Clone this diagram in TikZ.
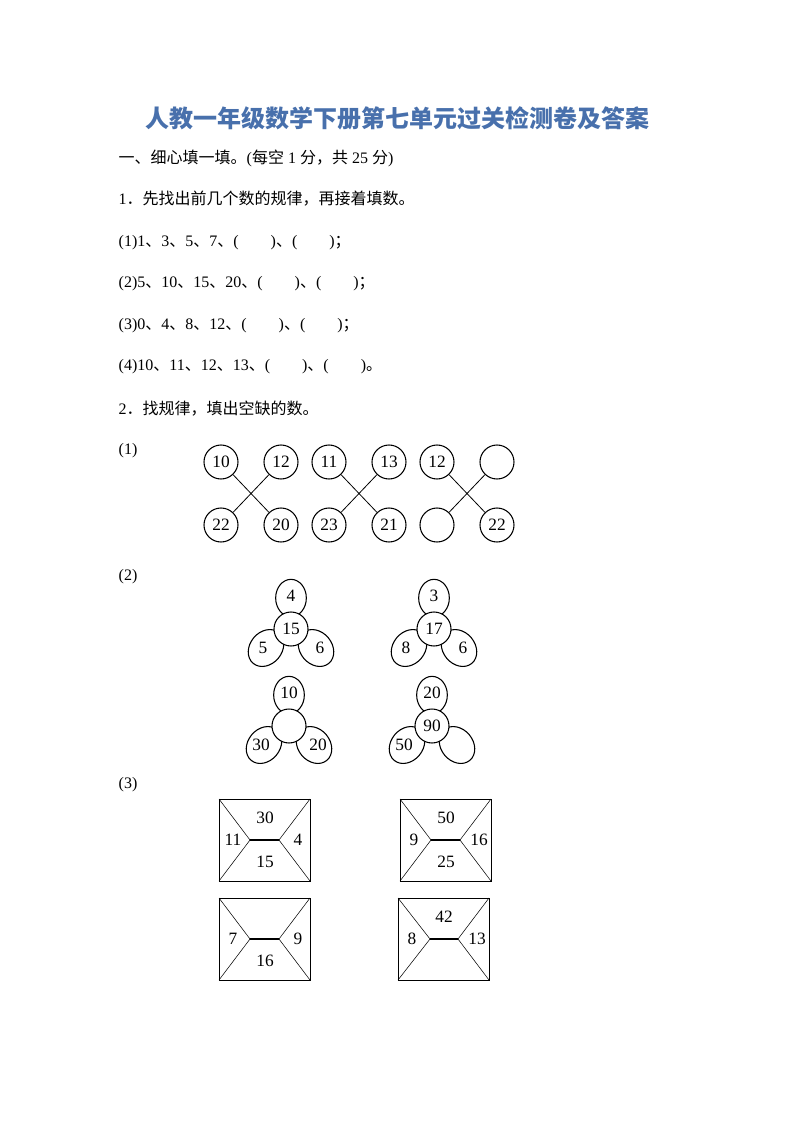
\documentclass[tikz,border=0pt]{standalone}
\usepackage{fontspec}
\setmainfont{Liberation Serif}
\newfontfamily\cjk{Noto Sans CJK SC}
\newcommand\zh[1]{{\cjk #1}}
\definecolor{titleblue}{RGB}{72,112,172}
\tikzset{
    line/.style = {anchor=west, font=\fontsize{12}{14}\selectfont},
    num/.style = {circle, draw, thick, minimum size=25.5pt, inner sep=0pt, font=\fontsize{13}{15}\selectfont},
    lab/.style = {font=\fontsize{13}{15}\selectfont, inner sep=0pt}
}
\begin{document}
\begin{tikzpicture}[x=0.75pt, y=-0.75pt]
    \useasboundingbox (0,0) rectangle (794,1122);
    \node[font=\fontsize{18}{20}\selectfont\bfseries, text=titleblue] (title) at (397,118) {\zh{人教一年级数学下册第七单元过关检测卷及答案}};
    \node[line] (l0) at (114,158) {\zh{一、细心填一填。}(\zh{每空} 1 \zh{分，共} 25 \zh{分})};
    \node[line] (l1) at (114,199) {1\zh{．先找出前几个数的规律，再接着填数。}};
    \node[line] (l2) at (114,243) {(1)1\zh{、}3\zh{、}5\zh{、}7\zh{、}(\hspace{2em})\zh{、}(\hspace{2em})\zh{；}};
    \node[line] (l3) at (114,284) {(2)5\zh{、}10\zh{、}15\zh{、}20\zh{、}(\hspace{2em})\zh{、}(\hspace{2em})\zh{；}};
    \node[line] (l4) at (114,326) {(3)0\zh{、}4\zh{、}8\zh{、}12\zh{、}(\hspace{2em})\zh{、}(\hspace{2em})\zh{；}};
    \node[line] (l5) at (114,367) {(4)10\zh{、}11\zh{、}12\zh{、}13\zh{、}(\hspace{2em})\zh{、}(\hspace{2em})\zh{。}};
    \node[line] (l6) at (114,409) {2\zh{．找规律，填出空缺的数。}};
    \node[line] (p1) at (114,451) {(1)};
    \node[line] (p2) at (114,577) {(2)};
    \node[line] (p3) at (114,785) {(3)};
    % crossing circles
    \foreach \i/\x/\a/\b/\c/\d in {1/221/10/12/22/20, 2/329/11/13/23/21, 3/437/12/{}/{}/22} {
        \node[num] (a\i) at (\x,462) {\a};
        \node[num] (b\i) at (\x+60,462) {\b};
        \node[num] (c\i) at (\x,525) {\c};
        \node[num] (d\i) at (\x+60,525) {\d};
        \draw[semithick] (a\i) -- (d\i);
        \draw[semithick] (b\i) -- (c\i);
    }
    % flowers
    \foreach \i/\x/\y/\t/\l/\r/\m in {1/291/629/4/5/6/15, 2/434/629/3/8/6/17, 3/289/726/10/30/20/{}, 4/432/726/20/50/{}/90} {
        \draw[thick, fill=white] (\x,\y-31) ellipse[x radius=11.5pt, y radius=14pt];
        \draw[thick, fill=white, rotate around={50:(\x-25,\y+19)}] (\x-25,\y+19) ellipse[x radius=15pt, y radius=12pt];
        \draw[thick, fill=white, rotate around={-50:(\x+25,\y+19)}] (\x+25,\y+19) ellipse[x radius=15pt, y radius=12pt];
        \node[num, fill=white] (m\i) at (\x,\y) {\m};
        \node[lab] (t\i) at (\x,\y-33) {\t};
        \node[lab] (l\i) at (\x-28,\y+19) {\l};
        \node[lab] (r\i) at (\x+29,\y+19) {\r};
    }
    % boxes
    \foreach \i/\x/\y/\u/\v/\w/\s/\el/\er in {1/219/799/30/11/4/15/250/279, 2/400/799/50/9/16/25/431/460, 3/219/898/{}/7/9/16/250/279, 4/398/898/42/8/13/{}/430/458} {
        \coordinate (nw\i) at (\x,\y);
        \coordinate (ne\i) at (\x+91,\y);
        \coordinate (sw\i) at (\x,\y+82);
        \coordinate (se\i) at (\x+91,\y+82);
        \coordinate (ml\i) at (\el,\y+41);
        \coordinate (mr\i) at (\er,\y+41);
        \draw[semithick] (nw\i) rectangle (se\i);
        \draw[thick] (ml\i) -- (mr\i);
        \draw (nw\i) -- (ml\i) -- (sw\i);
        \draw (ne\i) -- (mr\i) -- (se\i);
        \node[lab] (bu\i) at (\x+46,\y+19) {\u};
        \node[lab] (bv\i) at (\x+14,\y+41) {\v};
        \node[lab] (bw\i) at (\x+79,\y+41) {\w};
        \node[lab] (bs\i) at (\x+46,\y+63) {\s};
    }
\end{tikzpicture}
\end{document}
